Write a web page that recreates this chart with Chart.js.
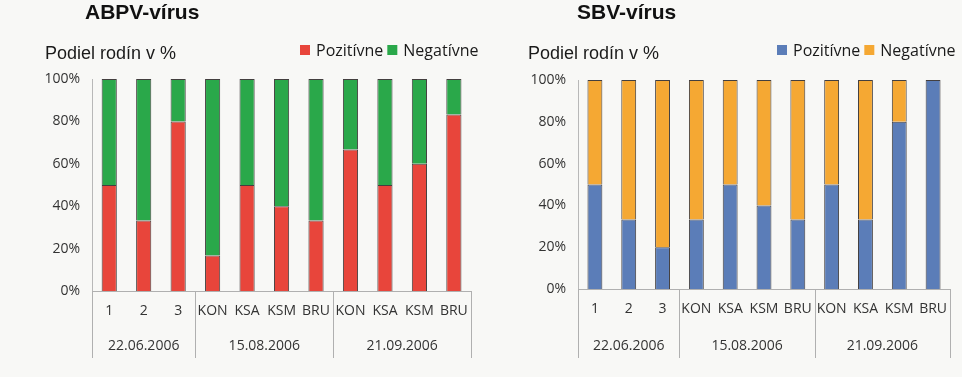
<!DOCTYPE html>
<html>
<head>
<meta charset="utf-8">
<script src="https://cdn.jsdelivr.net/npm/chart.js@4"></script>
<style>
    html, body { margin: 0; padding: 0; background: #f8f8f6; }
    .box { position: absolute; top: 0; height: 377px; }
    #leftBox { left: 0; width: 480px; }
    #rightBox { left: 480px; width: 482px; }
</style>
</head>
<body>
<div class="box" id="leftBox"><canvas id="abpvChart" width="480" height="377"></canvas></div>
<div class="box" id="rightBox"><canvas id="sbvChart" width="482" height="377"></canvas></div>
<script>
const categories = ['1', '2', '3', 'KON', 'KSA', 'KSM', 'BRU', 'KON', 'KSA', 'KSM', 'BRU'];
const dates = ['22.06.2006', '15.08.2006', '21.09.2006'];
const groupSizes = [3, 4, 4];
const yTicks = [0, 20, 40, 60, 80, 100];

const abpvPositive = [50, 33.3, 80, 16.7, 50, 40, 33.3, 66.7, 50, 60, 83.3];
const abpvNegative = [50, 66.7, 20, 83.3, 50, 60, 66.7, 33.3, 50, 40, 16.7];
const sbvPositive = [50, 33.3, 20, 33.3, 50, 40, 33.3, 50, 33.3, 80, 100];
const sbvNegative = [50, 66.7, 80, 66.7, 50, 60, 66.7, 50, 66.7, 20, 0];

const tickFont = { family: 'Open Sans', size: 14 };

// title, axis title, legend and the date row under the category labels
const decorPlugin = {
    id: 'decor',
    afterDraw(chart, args, opts) {
        const ctx = chart.ctx;
        const x = chart.scales.x;
        const area = chart.chartArea;
        ctx.save();

        ctx.fillStyle = '#111';
        ctx.textBaseline = 'alphabetic';
        ctx.textAlign = 'left';
        ctx.font = 'bold 21px "Liberation Sans"';
        ctx.fillText(opts.title, opts.titleX, 19);

        ctx.font = '18px "Liberation Sans"';
        ctx.fillStyle = '#1a1a1a';
        ctx.fillText('Podiel rodín v %', opts.axisTitleX, 59);

        // legend
        ctx.font = '16px "Open Sans"';
        ctx.textBaseline = 'middle';
        let lx = opts.legendX;
        chart.data.datasets.forEach(ds => {
            ctx.fillStyle = ds.backgroundColor;
            ctx.fillRect(lx, 45, 10, 10);
            lx += 16;
            ctx.fillStyle = '#1a1a1a';
            ctx.fillText(ds.label, lx, 51);
            lx += ctx.measureText(ds.label).width + 4;
        });

        // group separators and dates
        ctx.strokeStyle = '#b0b0b0';
        ctx.lineWidth = 1;
        const half = (x.getPixelForValue(1) - x.getPixelForValue(0)) / 2;
        let start = 0;
        const edges = [area.left];
        ctx.font = '14px "Open Sans"';
        ctx.fillStyle = '#333';
        ctx.textAlign = 'center';
        groupSizes.forEach((n, g) => {
            const left = x.getPixelForValue(start) - half;
            const right = x.getPixelForValue(start + n - 1) + half;
            edges.push(right);
            ctx.fillText(dates[g], (left + right) / 2, 346);
            start += n;
        });
        edges.forEach(px => {
            const p = Math.round(px) + 0.5;
            ctx.beginPath();
            ctx.moveTo(p, area.bottom);
            ctx.lineTo(p, 358);
            ctx.stroke();
        });
        ctx.restore();
    }
};

function makeChart(id, pos, neg, posColor, negColor, decor, geom) {
    return new Chart(document.getElementById(id), {
        type: 'bar',
        data: {
            labels: categories,
            datasets: [
                { label: 'Pozitívne', data: pos, backgroundColor: posColor },
                { label: 'Negatívne', data: neg, backgroundColor: negColor }
            ]
        },
        options: {
            responsive: false,
            animation: false,
            events: [],
            layout: { padding: { top: geom.top, left: 0, right: geom.right, bottom: 0 } },
            datasets: {
                bar: {
                    barPercentage: 0.44,
                    categoryPercentage: 1,
                    borderWidth: c => (c.raw === 0 ? 0 : 1),
                    borderColor: 'rgba(35,30,30,0.85)'
                }
            },
            plugins: {
                legend: { display: false },
                tooltip: { enabled: false },
                decor: decor
            },
            scales: {
                x: {
                    stacked: true,
                    grid: { display: false, drawTicks: false },
                    border: { display: true, color: '#b0b0b0' },
                    ticks: { font: tickFont, color: '#333', padding: 12, maxRotation: 0, autoSkip: false },
                    afterFit: s => { s.height = geom.xHeight; }
                },
                y: {
                    stacked: true,
                    min: 0,
                    max: 100,
                    afterBuildTicks: s => { s.ticks = yTicks.map(v => ({ value: v })); },
                    grid: { display: false, drawTicks: false },
                    border: { display: true, color: '#b8b8b8' },
                    ticks: { font: tickFont, color: '#333', padding: 12, callback: v => v + '%' },
                    afterFit: s => { s.width = geom.yWidth; }
                }
            }
        },
        plugins: [decorPlugin]
    });
}

makeChart('abpvChart', abpvPositive, abpvNegative, '#e8453b', '#2aa84a',
    { title: 'ABPV-vírus', titleX: 85, axisTitleX: 45, legendX: 300 },
    { top: 79, right: 4, xHeight: 86, yWidth: 92 });

makeChart('sbvChart', sbvPositive, sbvNegative, '#5b7db8', '#f5a833',
    { title: 'SBV-vírus', titleX: 97, axisTitleX: 48, legendX: 297 },
    { top: 80, right: 12, xHeight: 88, yWidth: 98 });
</script>
</body>
</html>
